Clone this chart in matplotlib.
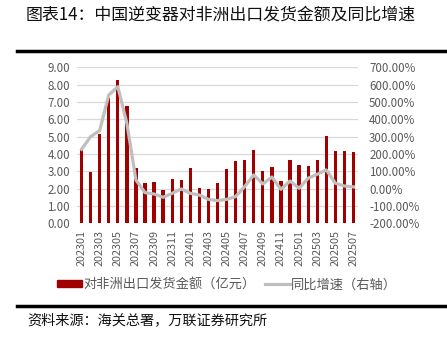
import numpy as np
import matplotlib.pyplot as plt
from matplotlib.lines import Line2D
from matplotlib.patches import Patch

plt.rcParams['font.family'] = ['Noto Sans CJK SC', 'DejaVu Sans']

# 月份 202301 - 202507
months = [f"{y}{m:02d}" for y in (2023, 2024, 2025) for m in range(1, 13)][:31]
# 对非洲出口发货金额（亿元）
amount = [4.27, 2.98, 5.15, 7.25, 8.24, 6.75, 3.19, 2.31, 2.40, 1.92,
          2.58, 2.48, 3.19, 2.02, 1.96, 2.34, 3.13, 3.60, 3.63, 4.23,
          3.04, 3.27, 2.44, 3.63, 3.35, 3.31, 3.65, 5.06, 4.15, 4.15, 4.12]
# 同比增速（%）
yoy = [227, 300, 335, 540, 588, 377, 50, -23, -31, -50,
       -27, -2, -27, -37, -62, -69, -62, -46, 12, 79,
       27, 67, -4, 44, 2, 60, 83, 108, 31, 15, 10]

red = '#A00000'
gray = '#BFBFBF'
txt = '#595959'

fig = plt.figure(figsize=(4.47, 3.39), dpi=100)
ax = fig.add_axes([0.1723, 0.3413, 0.6286, 0.4602])
x = np.arange(len(months))
ax.bar(x, amount, width=0.36, color=red, zorder=3)
ax.set_xlim(-0.5, len(months) - 0.5)
ax.set_ylim(0, 9)
ax.set_yticks(np.arange(0, 10, 1))
ax.set_yticklabels([f"{v:.2f}" for v in range(10)], color=txt, fontsize=8.3)
ax.grid(axis='y', color='#D9D9D9', lw=0.9, zorder=0)
ax.set_xticks(x[::2])
ax.set_xticklabels(months[::2], rotation=90, color=txt, fontsize=7.8)
ax.tick_params(length=0, pad=5)
for s in ax.spines.values():
    s.set_visible(False)

ax2 = ax.twinx()
ax2.plot(x, yoy, color=gray, lw=2.3, zorder=4)
ax2.set_ylim(-200, 700)
ax2.set_yticks(np.arange(-200, 800, 100))
ax2.set_yticklabels([f"{v:.2f}%" for v in range(-200, 800, 100)], color=txt, fontsize=8.3)
ax2.tick_params(length=0, pad=8)
for s in ax2.spines.values():
    s.set_visible(False)

handles = [Patch(color=red), Line2D([], [], color=gray, lw=2.3)]
fig.legend(handles, ['对非洲出口发货金额（亿元）', '同比增速（右轴）'],
           loc='center', bbox_to_anchor=(0.508, 0.159), ncol=2, frameon=False,
           fontsize=9.5, handlelength=1.9, handleheight=0.45, handletextpad=0.1,
           columnspacing=0.7, labelcolor=txt)

fig.text(0.058, 0.958, '图表14：中国逆变器对非洲出口发货金额及同比增速',
         fontsize=12.2, va='center', ha='left', color='#111111')
fig.add_artist(Line2D([0.038, 1.0], [0.8496, 0.8496], color='black', lw=2.5))
fig.add_artist(Line2D([0.038, 1.0], [0.097, 0.097], color='black', lw=2.5))
fig.text(0.062, 0.056, '资料来源：海关总署，万联证券研究所', fontsize=10.2,
         style='italic', va='center', ha='left', color='#111111')

fig.savefig('out.png', dpi=100)
